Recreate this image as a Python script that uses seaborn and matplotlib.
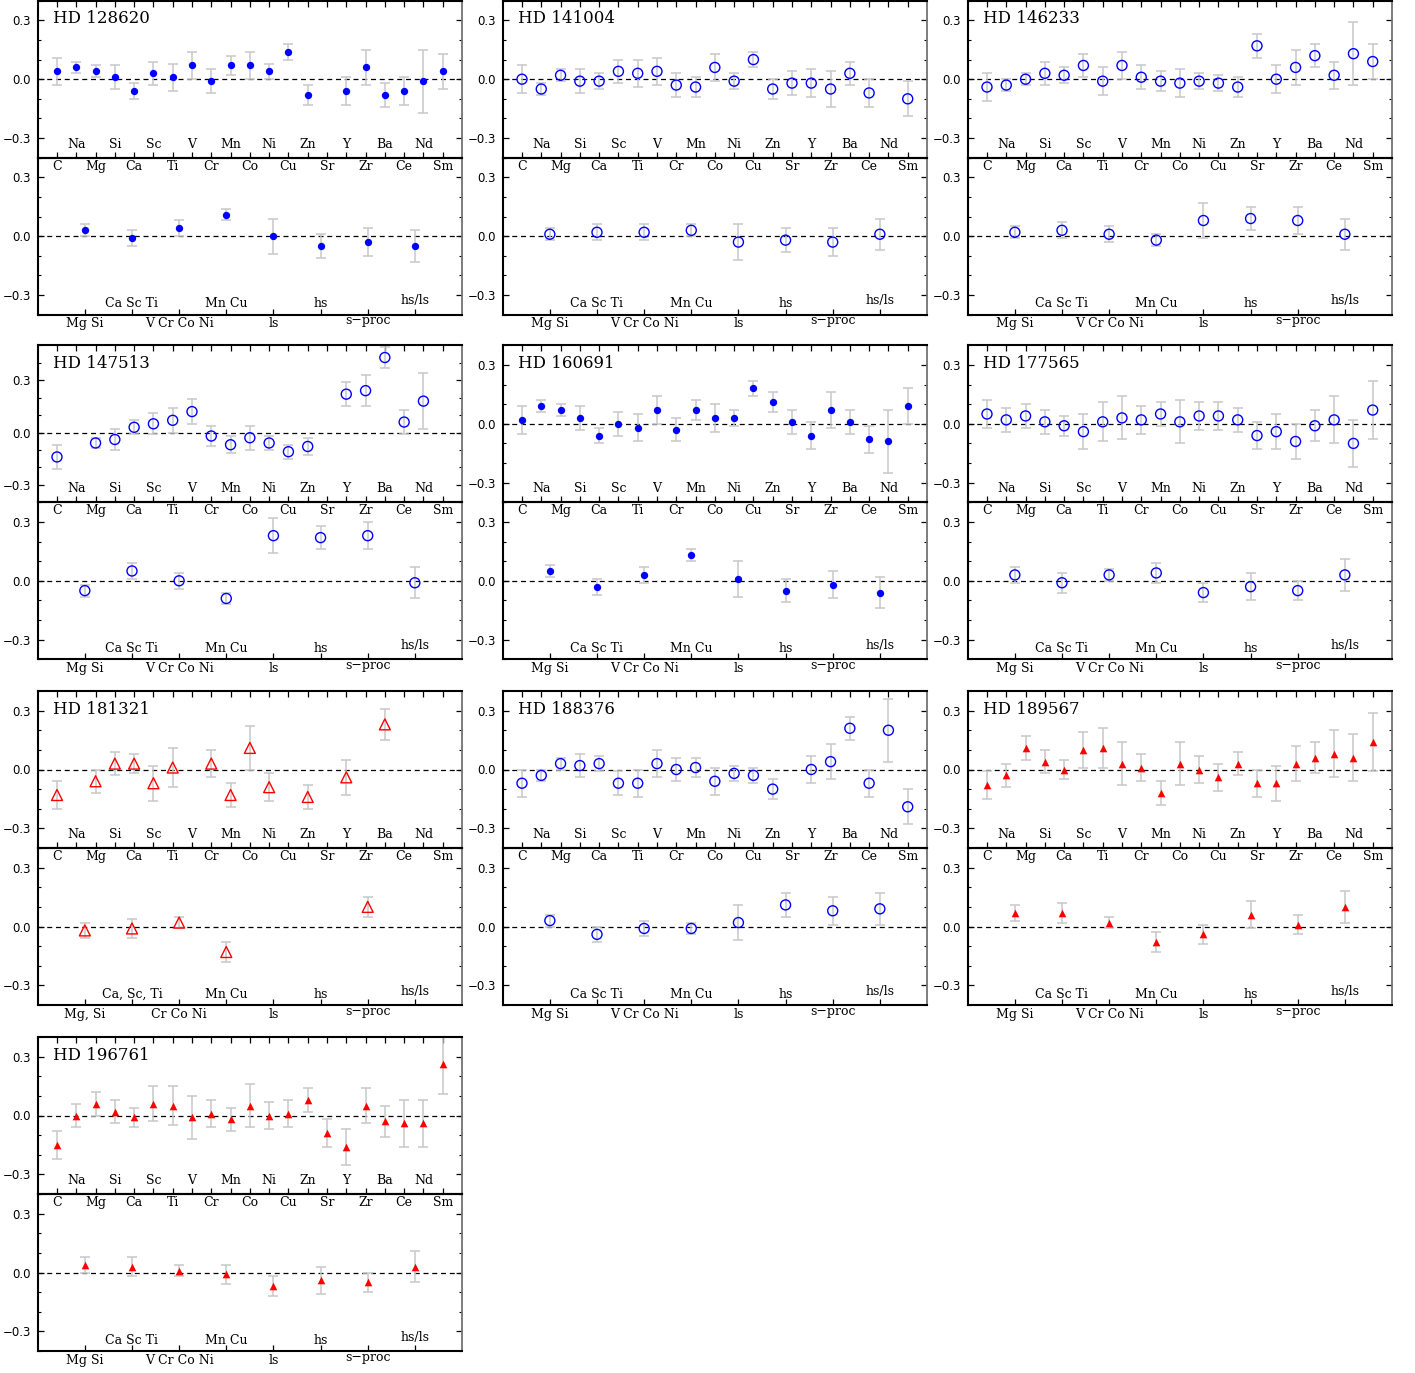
import numpy as np
import pandas as pd
import matplotlib.pyplot as plt
import seaborn as sns
from matplotlib.ticker import FixedLocator, MultipleLocator

nan = np.nan

# Element and group names
elements = ['C', 'Na', 'Mg', 'Si', 'Ca', 'Sc', 'Ti', 'V', 'Cr', 'Mn', 'Co',
            'Ni', 'Cu', 'Zn', 'Sr', 'Y', 'Zr', 'Ba', 'Ce', 'Nd', 'Sm']
groups = ['Mg Si', 'Ca Sc Ti', 'V Cr Co Ni', 'Mn Cu', 'ls', 'hs', 's\u2212proc', 'hs/ls']
groups_alt = ['Mg, Si', 'Ca, Sc, Ti', 'Cr Co Ni', 'Mn Cu', 'ls', 'hs', 's\u2212proc', 'hs/ls']

# Error bars (two sets)
err_a = [0.07, 0.03, 0.03, 0.06, 0.04, 0.06, 0.07, 0.07, 0.06, 0.05, 0.07,
         0.04, 0.04, 0.05, 0.06, 0.07, 0.09, 0.06, 0.07, 0.16, 0.09]
err_b = [0.07, 0.06, 0.06, 0.06, 0.05, 0.09, 0.10, 0.11, 0.07, 0.06, 0.11,
         0.07, 0.07, 0.06, 0.07, 0.09, 0.09, 0.08, 0.12, 0.12, 0.15]
grp_err_a = [0.03, 0.04, 0.04, 0.03, 0.09, 0.06, 0.07, 0.08]
grp_err_b = [0.04, 0.05, 0.03, 0.05, 0.05, 0.07, 0.05, 0.08]

# [X/Fe] differences per star
hd128620 = [0.04, 0.06, 0.04, 0.01, -0.06, 0.03, 0.01, 0.07, -0.01, 0.07, 0.07,
            0.04, 0.14, -0.08, nan, -0.06, 0.06, -0.08, -0.06, -0.01, 0.04]
hd128620_grp = [0.03, -0.01, 0.04, 0.11, 0.00, -0.05, -0.03, -0.05]

hd141004 = [0.00, -0.05, 0.02, -0.01, -0.01, 0.04, 0.03, 0.04, -0.03, -0.04, 0.06,
            -0.01, 0.10, -0.05, -0.02, -0.02, -0.05, 0.03, -0.07, nan, -0.10]
hd141004_grp = [0.01, 0.02, 0.02, 0.03, -0.03, -0.02, -0.03, 0.01]

hd146233 = [-0.04, -0.03, 0.00, 0.03, 0.02, 0.07, -0.01, 0.07, 0.01, -0.01, -0.02,
            -0.01, -0.02, -0.04, 0.17, 0.00, 0.06, 0.12, 0.02, 0.13, 0.09]
hd146233_grp = [0.02, 0.03, 0.01, -0.02, 0.08, 0.09, 0.08, 0.01]

hd147513 = [-0.14, nan, -0.06, -0.04, 0.03, 0.05, 0.07, 0.12, -0.02, -0.07, -0.03,
            -0.06, -0.11, -0.08, nan, 0.22, 0.24, 0.43, 0.06, 0.18, nan]
hd147513_grp = [-0.05, 0.05, 0.00, -0.09, 0.23, 0.22, 0.23, -0.01]

hd160691 = [0.02, 0.09, 0.07, 0.03, -0.06, 0.00, -0.02, 0.07, -0.03, 0.07, 0.03,
            0.03, 0.18, 0.11, 0.01, -0.06, 0.07, 0.01, -0.08, -0.09, 0.09]
hd160691_grp = [0.05, -0.03, 0.03, 0.13, 0.01, -0.05, -0.02, -0.06]

hd177565 = [0.05, 0.02, 0.04, 0.01, -0.01, -0.04, 0.01, 0.03, 0.02, 0.05, 0.01,
            0.04, 0.04, 0.02, -0.06, -0.04, -0.09, -0.01, 0.02, -0.10, 0.07]
hd177565_grp = [0.03, -0.01, 0.03, 0.04, -0.06, -0.03, -0.05, 0.03]

hd181321 = [-0.13, nan, -0.06, 0.03, 0.03, -0.07, 0.01, nan, 0.03, -0.13, 0.11,
            -0.09, nan, -0.14, nan, -0.04, nan, 0.23, nan, nan, nan]
hd181321_grp = [-0.02, -0.01, 0.02, -0.13, nan, nan, 0.10, nan]

hd188376 = [-0.07, -0.03, 0.03, 0.02, 0.03, -0.07, -0.07, 0.03, 0.00, 0.01, -0.06,
            -0.02, -0.03, -0.10, nan, 0.00, 0.04, 0.21, -0.07, 0.20, -0.19]
hd188376_grp = [0.03, -0.04, -0.01, -0.01, 0.02, 0.11, 0.08, 0.09]

hd189567 = [-0.08, -0.03, 0.11, 0.04, 0.00, 0.10, 0.11, 0.03, 0.01, -0.12, 0.03,
            0.00, -0.04, 0.03, -0.07, -0.07, 0.03, 0.06, 0.08, 0.06, 0.14]
hd189567_grp = [0.07, 0.07, 0.02, -0.08, -0.04, 0.06, 0.01, 0.10]

hd196761 = [-0.15, 0.00, 0.06, 0.02, -0.01, 0.06, 0.05, -0.01, 0.01, -0.02, 0.05,
            0.00, 0.01, 0.08, -0.09, -0.16, 0.05, -0.03, -0.04, -0.04, 0.26]
hd196761_grp = [0.04, 0.03, 0.01, -0.01, -0.07, -0.04, -0.05, 0.03]

panels = [
    ('HD 128620', hd128620, hd128620_grp, err_a, grp_err_a, 'blue_filled', groups),
    ('HD 141004', hd141004, hd141004_grp, err_a, grp_err_a, 'blue_open', groups),
    ('HD 146233', hd146233, hd146233_grp, err_a, grp_err_a, 'blue_open', groups),
    ('HD 147513', hd147513, hd147513_grp, err_a, grp_err_a, 'blue_open', groups),
    ('HD 160691', hd160691, hd160691_grp, err_a, grp_err_a, 'blue_filled', groups),
    ('HD 177565', hd177565, hd177565_grp, err_b, grp_err_b, 'blue_open', groups),
    ('HD 181321', hd181321, hd181321_grp, err_b, grp_err_b, 'red_open', groups_alt),
    ('HD 188376', hd188376, hd188376_grp, err_a, grp_err_a, 'blue_open', groups),
    ('HD 189567', hd189567, hd189567_grp, err_b, grp_err_b, 'red_filled', groups),
    ('HD 196761', hd196761, hd196761_grp, err_b, grp_err_b, 'red_filled', groups),
]

MARKERS = {
    'blue_filled': dict(marker='o', s=28, color='blue', edgecolor='blue', linewidth=0),
    'blue_open': dict(marker='o', s=52, color='blue', facecolor='none', edgecolor='blue', linewidth=1.0),
    'red_open': dict(marker='^', s=62, color='red', facecolor='none', edgecolor='red', linewidth=1.0),
    'red_filled': dict(marker='^', s=30, color='red', edgecolor='red', linewidth=0),
}

sns.set_theme(style='ticks')
plt.rcParams['font.family'] = ['DejaVu Sans']
plt.rcParams['axes.unicode_minus'] = True
for key in ['text.color', 'axes.labelcolor', 'xtick.color', 'ytick.color']:
    plt.rcParams[key] = 'black'

SERIF = ['DejaVu Serif']
W, H = 1415, 1373
fig = plt.figure(figsize=(W / 100, H / 100), dpi=100, facecolor='white')

col_left = [37.7, 502.7, 967.7]
ax_w = 424.3
row_top = [0.7, 345.3, 691.0, 1037.0]
pan_h = 157.0


def add_axes(left, top, ylim, top_ticks=True):
    ax = fig.add_axes([left / W, 1 - (top + pan_h) / H, ax_w / W, pan_h / H])
    ax.set_facecolor('none')
    ax.set_ylim(*ylim)
    ax.yaxis.set_major_locator(FixedLocator([-0.3, 0.0, 0.3]))
    ax.yaxis.set_minor_locator(MultipleLocator(0.1))
    ax.tick_params(axis='both', which='both', direction='in', right=True,
                   color='black', labelcolor='black', labelsize=8.5, pad=5)
    ax.tick_params(axis='x', top=top_ticks, labelbottom=False)
    ax.tick_params(which='major', length=4.5, width=0.9)
    ax.tick_params(which='minor', length=2.5, width=0.8)
    for side in ['left', 'bottom', 'top']:
        ax.spines[side].set_linewidth(1.5)
        ax.spines[side].set_color('black')
    ax.spines['right'].set_linewidth(1.3)
    ax.spines['right'].set_color('0.45')
    ax.axhline(0, color='black', lw=0.9, ls=(0, (4, 3)), zorder=1)
    return ax


def draw_points(ax, x, y, err, style):
    df = pd.DataFrame({'x': x, 'y': y, 'err': err}).dropna()
    ax.errorbar(df['x'], df['y'], yerr=df['err'], fmt='none', ecolor='#c8c8c8',
                elinewidth=1.1, capsize=3.5, capthick=1.1, zorder=2)
    sns.scatterplot(data=df, x='x', y='y', ax=ax, legend=False, zorder=3, **MARKERS[style])
    ax.set_xlabel('')
    ax.set_ylabel('')


for k, (name, vals, gvals, errs, gerrs, style, glabels) in enumerate(panels):
    r, c = divmod(k, 3)
    left = col_left[c]
    top = row_top[r]
    ylim_top = (-0.4, 0.5) if name == 'HD 147513' else (-0.4, 0.4)

    # upper panel: individual elements
    ax1 = add_axes(left, top, ylim_top)
    draw_points(ax1, list(range(len(elements))), vals, errs, style)
    ax1.set_xlim(-1, len(elements))
    ax1.set_xticks(range(len(elements)))
    trans = ax1.get_xaxis_transform()
    for i, el in enumerate(elements):
        yy = 0.085 if i % 2 else -0.055
        ax1.text(i, yy, el, transform=trans, ha='center', va='center',
                 fontsize=9, family=SERIF, clip_on=False, zorder=5)
    ax1.text(0.035, 0.885, name, transform=ax1.transAxes, ha='left', va='center',
             fontsize=12, family=SERIF)

    # lower panel: element groups
    ax2 = add_axes(left, top + pan_h, (-0.4, 0.4), top_ticks=False)
    gx = list(range(1, len(groups) + 1))
    draw_points(ax2, gx, gvals, gerrs, style)
    ax2.set_xlim(0, len(groups) + 1)
    ax2.set_xticks(gx)
    trans = ax2.get_xaxis_transform()
    for i, lab in enumerate(glabels):
        shift = 0.018 if ('/' in lab or '\u2212' in lab) else 0.0
        yy = (0.07 if i % 2 else -0.058) + shift
        ax2.text(gx[i], yy, lab, transform=trans, ha='center', va='center',
                 fontsize=9, family=SERIF, clip_on=False)

plt.savefig('out.png', dpi=100, facecolor='white')
